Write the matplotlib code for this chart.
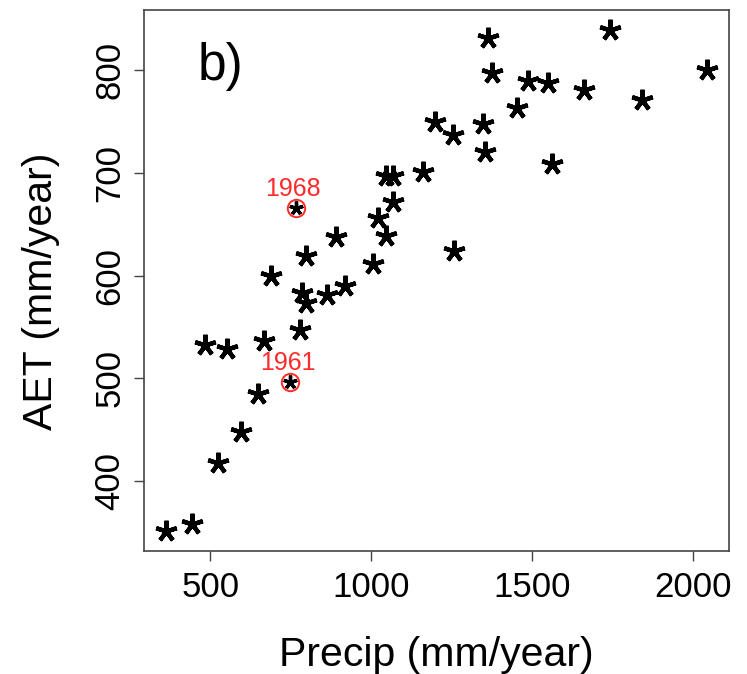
import matplotlib
matplotlib.use("Agg")
import matplotlib.pyplot as plt

plt.rcParams['font.family'] = ['Liberation Sans', 'DejaVu Sans']

# precipitation vs actual evapotranspiration, one point per year
precip = [362, 443, 525, 596, 647, 484, 551, 668, 780, 690, 785, 798, 863,
          917, 1006, 891, 798, 1047, 1021, 1066, 1047, 1068, 1160, 1197,
          1363, 1742, 1375, 1485, 1550, 1661, 2043, 1841, 1451, 1255,
          1347, 1352, 1560, 1256]
aet = [352, 358, 418, 448, 485, 533, 529, 536, 547, 600, 583, 573, 581,
       590, 611, 638, 619, 639, 656, 672, 697, 697, 701, 750,
       831, 839, 797, 789, 787, 781, 800, 771, 763, 737,
       748, 720, 709, 624]

# highlighted years
hi_precip = [749, 765]
hi_aet = [497, 666]
hi_year = ["1961", "1968"]

fig = plt.figure(figsize=(7.47, 6.74), dpi=100)
ax = fig.add_axes([0.1928, 0.1832, 0.7831, 0.8019])

star = (5, 2, 0)
ax.plot(precip, aet, linestyle='none', marker=star, markersize=15.5,
        markeredgewidth=3.1, color='black')
ax.plot(hi_precip, hi_aet, linestyle='none', marker=star, markersize=10,
        markeredgewidth=2.4, color='black')
ax.plot(hi_precip, hi_aet, linestyle='none', marker='o', markersize=12.5,
        markerfacecolor='none', markeredgecolor='#ff2a2a', markeredgewidth=1.4)
for x, y, t in zip(hi_precip, hi_aet, hi_year):
    ax.annotate(t, (x, y), xytext=(-2, 8.5), textcoords='offset points',
                ha='center', va='baseline', color='#ff2a2a', fontsize=18)

# R-style 4% padding
xall = precip + hi_precip
yall = aet + hi_aet
dx = (max(xall) - min(xall)) * 0.04
dy = (max(yall) - min(yall)) * 0.04
ax.set_xlim(min(xall) - dx, max(xall) + dx)
ax.set_ylim(min(yall) - dy, max(yall) + dy)

ax.set_xticks([500, 1000, 1500, 2000])
ax.set_yticks([400, 500, 600, 700, 800])
ax.tick_params(axis='both', direction='out', length=7.5, width=1.0,
               color='#444444', labelsize=25)
ax.tick_params(axis='x', pad=7.5)
ax.tick_params(axis='y', pad=5, labelrotation=90)
for lab in ax.get_yticklabels():
    lab.set_va('center')

for s in ax.spines.values():
    s.set_linewidth(1.2)
    s.set_color('#444444')

ax.set_xlabel("Precip (mm/year)", fontsize=29.5, labelpad=23)
ax.set_ylabel("AET (mm/year)", fontsize=29.5)
ax.yaxis.set_label_coords(-0.143, 0.48)

ax.text(0.0923, 0.8705, "b)", transform=ax.transAxes, fontsize=37,
        ha='left', va='baseline')

plt.savefig("out.png", dpi=100)
